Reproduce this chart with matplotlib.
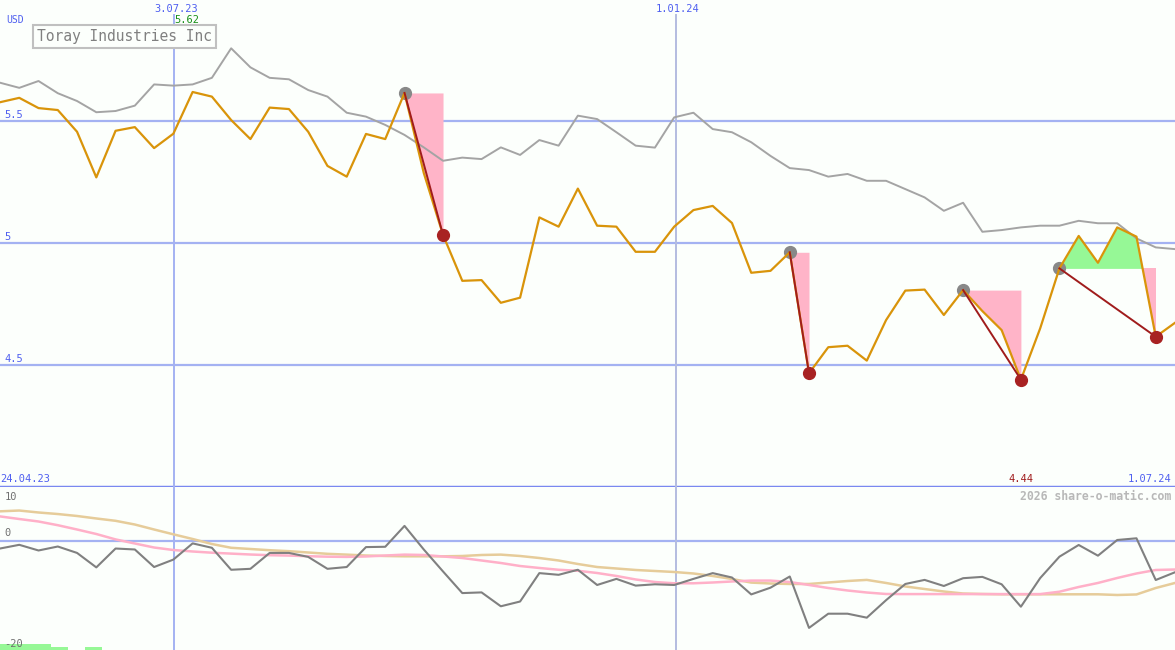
import numpy as np
import matplotlib
matplotlib.use("Agg")
import matplotlib.pyplot as plt

# weekly closes (USD), 24.04.23 .. 1.07.24
price = [5.577, 5.595, 5.553, 5.545, 5.456, 5.269, 5.460, 5.475, 5.389, 5.448,
         5.619, 5.600, 5.504, 5.426, 5.555, 5.549, 5.456, 5.316, 5.272, 5.447,
         5.426, 5.615, 5.287, 5.033, 4.845, 4.848, 4.755, 4.776, 5.105, 5.067,
         5.223, 5.071, 5.067, 4.964, 4.964, 5.067, 5.135, 5.152, 5.082, 4.878,
         4.886, 4.962, 4.466, 4.573, 4.579, 4.518, 4.684, 4.805, 4.809, 4.705,
         4.807, 4.721, 4.643, 4.440, 4.650, 4.896, 5.029, 4.919, 5.064, 5.026,
         4.616, 4.673]
# comparison line (grey)
avg = [5.657, 5.636, 5.664, 5.614, 5.582, 5.536, 5.541, 5.563, 5.650, 5.645,
       5.650, 5.677, 5.798, 5.720, 5.677, 5.671, 5.627, 5.600, 5.534, 5.518,
       5.484, 5.443, 5.392, 5.337, 5.350, 5.344, 5.392, 5.361, 5.422, 5.399,
       5.522, 5.508, 5.454, 5.399, 5.391, 5.515, 5.534, 5.467, 5.454, 5.413,
       5.357, 5.307, 5.299, 5.272, 5.283, 5.255, 5.255, 5.221, 5.187, 5.132,
       5.165, 5.046, 5.053, 5.064, 5.071, 5.071, 5.091, 5.081, 5.081, 5.019,
       4.982, 4.975]
# lower panel
osc = [-1.42, -0.72, -1.79, -1.04, -2.25, -4.98, -1.42, -1.60, -4.91, -3.51,
       -0.45, -1.28, -5.43, -5.25, -2.25, -2.25, -3.00, -5.25, -4.91, -1.15,
       -1.09, 2.85, -1.60, -5.75, -9.83, -9.70, -12.32, -11.42, -6.06, -6.38,
       -5.43, -8.30, -7.15, -8.42, -8.17, -8.30, -7.15, -6.06, -6.89, -10.08,
       -8.81, -6.70, -16.40, -13.72, -13.72, -14.47, -11.17, -8.11, -7.34, -8.49,
       -7.02, -6.77, -8.17, -12.4, -7.0, -2.96, -0.75, -2.77, 0.19, 0.51,
       -7.36, -5.9]
tan_ma = [5.60, 5.75, 5.38, 5.09, 4.72, 4.25, 3.81, 3.11, 2.17, 1.26,
          0.38, -0.57, -1.28, -1.51, -1.74, -1.92, -2.17, -2.42, -2.57, -2.74,
          -2.83, -2.89, -2.89, -2.89, -2.83, -2.64, -2.57, -2.83, -3.21, -3.68,
          -4.34, -4.91, -5.19, -5.47, -5.66, -5.85, -6.13, -6.60, -7.17, -7.85,
          -8.02, -8.11, -8.11, -7.83, -7.55, -7.34, -7.92, -8.58, -9.06, -9.53,
          -9.91, -10.0, -10.06, -10.06, -10.06, -10.06, -10.06, -10.06, -10.19, -10.09,
          -8.87, -7.92]
pink_ma = [4.64, 4.15, 3.68, 2.98, 2.17, 1.32, 0.30, -0.47, -1.23, -1.70,
           -1.98, -2.21, -2.38, -2.55, -2.68, -2.75, -2.87, -2.96, -3.0, -2.92,
           -2.74, -2.57, -2.64, -2.92, -3.21, -3.68, -4.15, -4.72, -5.09, -5.43,
           -5.62, -6.04, -6.60, -7.26, -7.74, -7.98, -7.98, -7.83, -7.64, -7.47,
           -7.47, -7.74, -8.30, -8.87, -9.34, -9.72, -10.0, -10.02, -10.02, -10.02,
           -10.02, -10.02, -10.02, -10.02, -10.02, -9.57, -8.68, -7.92, -6.98, -6.13,
           -5.47, -5.38]
vol = [1.15, 1.15, 1.15, 0.6, 0.0, 0.6]

# drop events: (start index, end index)
events = [(21, 23), (41, 42), (50, 53), (55, 60)]
date_lines = [(9.03, "3.07.23"), (35.1, "1.01.24")]
price_grid = [5.5, 5.0, 4.5]
price_labels = ["5.5", "5", "4.5"]
low_labels = [(10, "10"), (0, "0"), (-20, "-20")]

x = np.arange(len(price))
price = np.array(price)

bg = "#fcfffc"
grid_c = "#a4b2f2"
txt_c = "#4f5ff0"
mono = "DejaVu Sans Mono"

fig = plt.figure(figsize=(11.75, 6.5), dpi=100, facecolor=bg)
ax = fig.add_axes([0, 163 / 650, 1, 487 / 650])
ax2 = fig.add_axes([0, 0, 1, 163 / 650])
for a in (ax, ax2):
    a.set_facecolor(bg)
    a.set_xlim(0, len(x) - 1)
    a.set_xticks([])
    a.set_yticks([])
    for s in a.spines.values():
        s.set_visible(False)

ax.set_ylim(4.0, 5.996)
ax2.set_ylim(-20.57, 10.19)

# grid
for g, lab in zip(price_grid, price_labels):
    ax.axhline(g, color=grid_c, lw=1.6, zorder=1)
    ax.text(0.004, g + 0.004, lab, transform=ax.get_yaxis_transform(),
            color=txt_c, fontsize=7.5, family=mono, va="bottom", ha="left")
ax2.axhline(0, color=grid_c, lw=1.6, zorder=1)
ax.axhline(4.0, color="#7a88f0", lw=2.5, zorder=1, clip_on=False)

for xv, lab in date_lines:
    c = grid_c if xv < 20 else "#b4bce0"
    ax.plot([xv, xv], [4.0, 5.935], color=c, lw=1.4, zorder=1)
    ax2.axvline(xv, color=c, lw=1.4, zorder=1)
    ax.text(xv + 0.1, 5.959, lab, color=txt_c, fontsize=7.5, family=mono,
            ha="center", va="center")

# fills and drops
for s, e in events:
    lvl = price[s]
    xs = x[s:e + 1]
    ys = price[s:e + 1]
    ax.fill_between(xs, lvl, ys, where=ys <= lvl, interpolate=True,
                    color="#ffb4c8", lw=0, zorder=2)
    ax.fill_between(xs, lvl, ys, where=ys >= lvl, interpolate=True,
                    color="#96f896", lw=0, zorder=2)

ax.plot(x, avg, color="#a4a4a4", lw=1.4, zorder=3)
ax.plot(x, price, color="#d9940a", lw=1.6, zorder=4)

for s, e in events:
    ax.plot([x[s], x[e]], [price[s], price[e]], color="#a01c1c", lw=1.4, zorder=5)
    ax.plot(x[s], price[s], "o", color="#888888", ms=8.5, zorder=3.5)
    ax.plot(x[e], price[e], "o", color="#a82222", ms=8.5, zorder=6)

# top texts
ax.text(0.005, 0.958, "USD", transform=ax.transAxes, color=txt_c, fontsize=7,
        family=mono, va="center")
ax.text(9.03, 5.914, "5.62", color="#189018", fontsize=7.5, family=mono,
        ha="left", va="center")
ax.text(0.0315, 0.925, "Toray Industries Inc", transform=ax.transAxes,
        color="#808080", fontsize=10.5, family=mono, va="center", ha="left",
        bbox=dict(boxstyle="square,pad=0.28", fc=bg, ec="#c0c0c0", lw=1.5),
        zorder=7)
ax.text(0.002, 4.012, "24.04.23", color=txt_c, fontsize=7.5, family=mono,
        va="bottom", ha="left")
ax.text(53, 4.012, "4.44", color="#a01c1c", fontsize=7.5, family=mono,
        va="bottom", ha="center")
ax.text(0.997, 4.012, "1.07.24", transform=ax.get_yaxis_transform(),
        color=txt_c, fontsize=7.5, family=mono, va="bottom", ha="right")

# lower panel
ax2.bar(np.arange(len(vol)) * 0.883, vol, width=0.883, bottom=-20.57,
        align="edge", color="#96f896", lw=0, zorder=1)
ax2.plot(x, tan_ma, color="#e6cc9a", lw=1.8, zorder=2)
ax2.plot(x, pink_ma, color="#ffb0c8", lw=1.8, zorder=2)
ax2.plot(x, osc, color="#808080", lw=1.5, zorder=3)
for v, lab in low_labels:
    yy = {10: 9.2, 0: 0.6, -20: -20.3}[v]
    ax2.text(0.004, yy, lab, transform=ax2.get_yaxis_transform(),
             color="#707070", fontsize=7.5, family=mono,
             va="top" if v == 10 else "bottom", ha="left")
ax2.text(0.997, 0.94, "2026 share-o-matic.com", transform=ax2.transAxes,
         color="#b8b8b8", fontsize=8.3, family=mono, va="center", ha="right",
         weight="bold")

fig.savefig("out.png", dpi=100, facecolor=bg)
